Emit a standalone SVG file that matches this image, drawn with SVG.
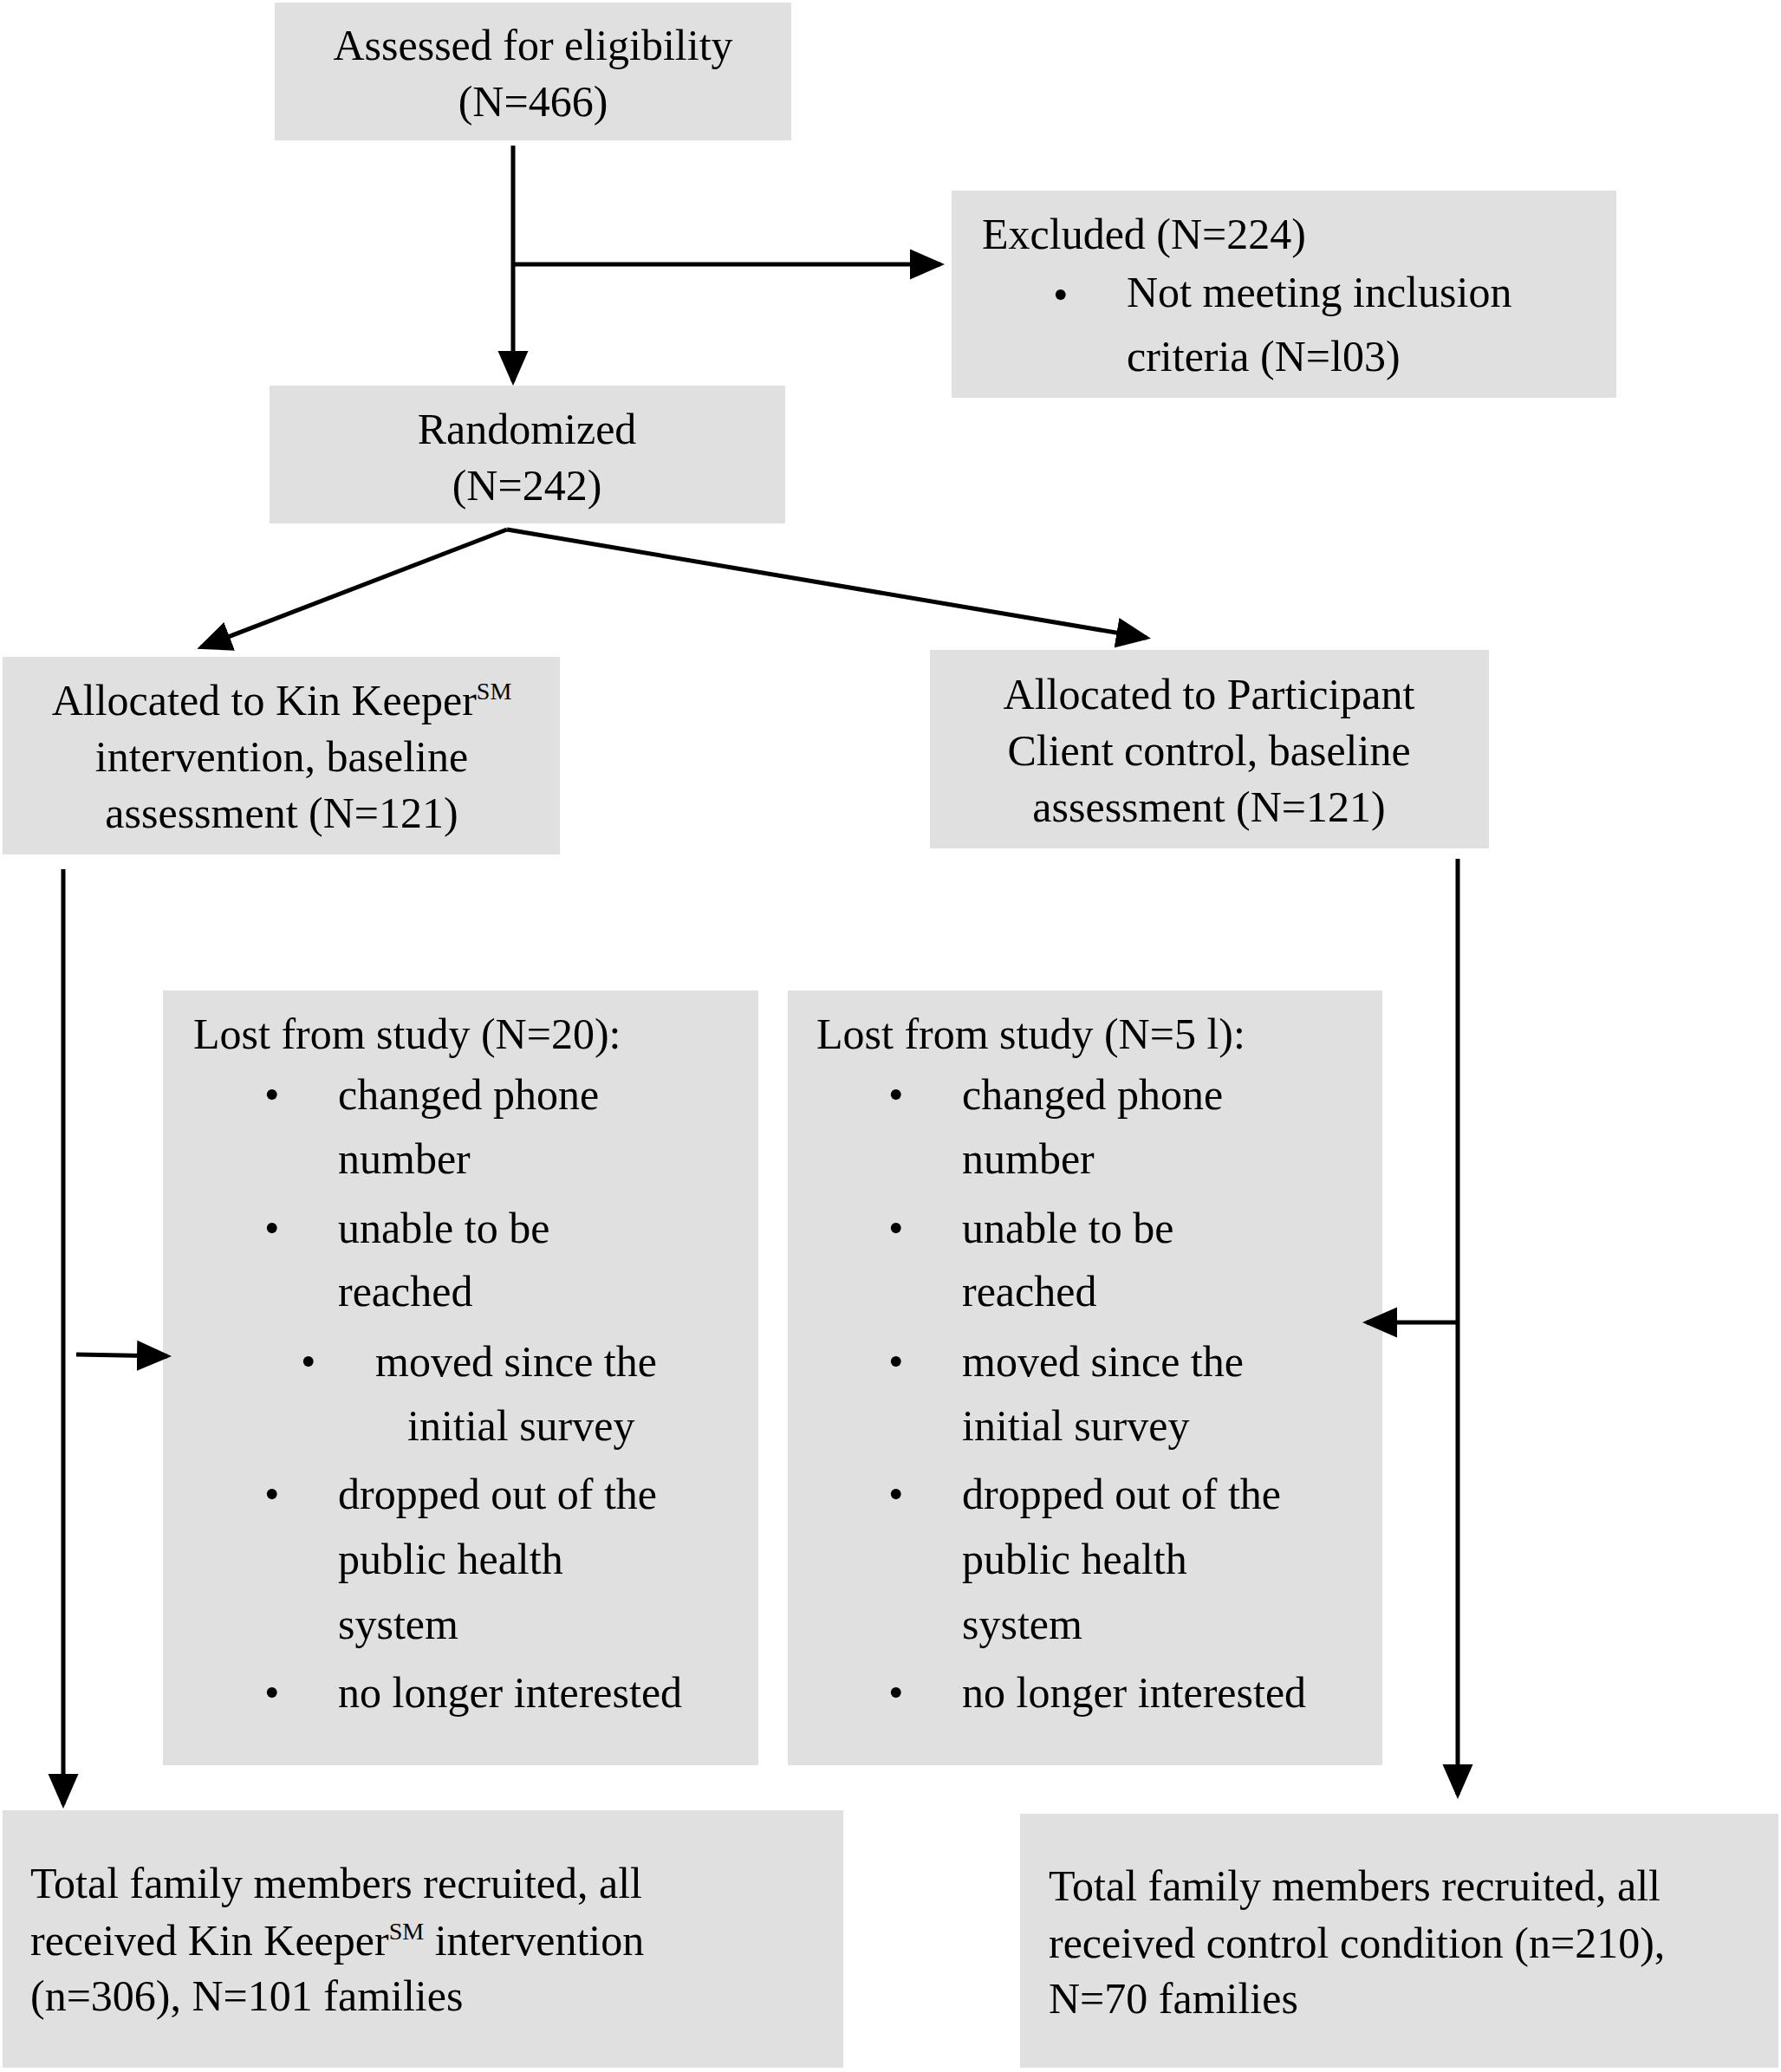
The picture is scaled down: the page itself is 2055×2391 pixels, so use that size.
<svg xmlns="http://www.w3.org/2000/svg" width="2055" height="2391" viewBox="0 0 2055 2391">
<style>
.b{fill:#e0e0e0}
text{font-family:"Liberation Serif","Times New Roman",serif;font-size:50px;fill:#000}
.c{text-anchor:middle}
.l{stroke:#000;stroke-width:5;fill:none}
</style>
<defs><marker id="a" markerWidth="8" markerHeight="8" refX="7" refY="4" orient="auto" markerUnits="strokeWidth"><path d="M0,0.5 L8,4 L0,7.5 z" fill="#000"/></marker></defs>
<rect width="2055" height="2391" fill="#fff"/>
<g id="assessed"><rect class="b" x="317" y="3" width="596" height="159"/><text class="c" x="615" y="69">Assessed for eligibility</text><text class="c" x="615" y="134">(N=466)</text></g>
<g id="excluded"><rect class="b" x="1098" y="220" width="767" height="239"/><text x="1133" y="287">Excluded (N=224)</text><text x="1215" y="357">•</text><text x="1300" y="354">Not meeting inclusion</text><text x="1300" y="428">criteria (N=l03)</text></g>
<g id="randomized"><rect class="b" x="311" y="445" width="595" height="159"/><text class="c" x="608" y="512">Randomized</text><text class="c" x="608" y="577">(N=242)</text></g>
<g id="kk"><rect class="b" x="3" y="758" width="643" height="228"/><text class="c" x="325" y="825">Allocated to Kin Keeper<tspan font-size="28" dy="-18">SM</tspan></text><text class="c" x="325" y="890">intervention, baseline</text><text class="c" x="325" y="955">assessment (N=121)</text></g>
<g id="pc"><rect class="b" x="1073" y="750" width="645" height="229"/><text class="c" x="1395" y="818">Allocated to Participant</text><text class="c" x="1395" y="883">Client control, baseline</text><text class="c" x="1395" y="948">assessment (N=121)</text></g>
<g id="lostL"><rect class="b" x="188" y="1143" width="687" height="894"/>
<text x="223" y="1210">Lost from study (N=20):</text>
<text x="305" y="1280">•</text><text x="390" y="1280">changed phone</text><text x="390" y="1354">number</text>
<text x="305" y="1434">•</text><text x="390" y="1434">unable to be</text><text x="390" y="1507">reached</text>
<text x="347" y="1588">•</text><text x="433" y="1588">moved since the</text><text x="470" y="1662">initial survey</text>
<text x="305" y="1741">•</text><text x="390" y="1741">dropped out of the</text><text x="390" y="1816">public health</text><text x="390" y="1891">system</text>
<text x="305" y="1970">•</text><text x="390" y="1970">no longer interested</text></g>
<g id="lostR"><rect class="b" x="909" y="1143" width="686" height="894"/>
<text x="942" y="1210">Lost from study (N=5 l):</text>
<text x="1025" y="1280">•</text><text x="1110" y="1280">changed phone</text><text x="1110" y="1354">number</text>
<text x="1025" y="1434">•</text><text x="1110" y="1434">unable to be</text><text x="1110" y="1507">reached</text>
<text x="1025" y="1588">•</text><text x="1110" y="1588">moved since the</text><text x="1110" y="1662">initial survey</text>
<text x="1025" y="1741">•</text><text x="1110" y="1741">dropped out of the</text><text x="1110" y="1816">public health</text><text x="1110" y="1891">system</text>
<text x="1025" y="1970">•</text><text x="1110" y="1970">no longer interested</text></g>
<g id="totL"><rect class="b" x="3" y="2089" width="970" height="297"/><text x="35" y="2190">Total family members recruited, all</text><text x="35" y="2256">received Kin Keeper<tspan font-size="28" dy="-18">SM</tspan><tspan dy="18"> intervention</tspan></text><text x="35" y="2320">(n=306), N=101 families</text></g>
<g id="totR"><rect class="b" x="1177" y="2093" width="875" height="293"/><text x="1210" y="2193">Total family members recruited, all</text><text x="1210" y="2259">received control condition (n=210),</text><text x="1210" y="2323">N=70 families</text></g>
<g id="connectors">
<path class="l" d="M592,168 V440" marker-end="url(#a)"/>
<path class="l" d="M592,305 H1085" marker-end="url(#a)"/>
<path class="l" d="M585,611 L232,747" marker-end="url(#a)"/>
<path class="l" d="M585,611 L1323,736" marker-end="url(#a)"/>
<path class="l" d="M73,1003 V2082" marker-end="url(#a)"/>
<path class="l" d="M88,1563 L193,1565" marker-end="url(#a)"/>
<path class="l" d="M1682,991 V2071" marker-end="url(#a)"/>
<path class="l" d="M1682,1526 H1577" marker-end="url(#a)"/>
</g>
</svg>
